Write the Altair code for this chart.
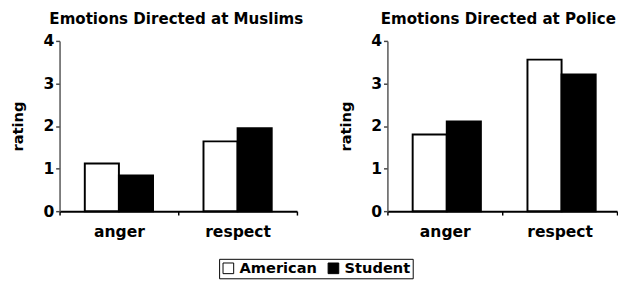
import altair as alt
import pandas as pd

categories = ["anger", "respect"]
groups = ["American", "Student"]
muslims_american = [1.12, 1.64]
muslims_student = [0.84, 1.95]
police_american = [1.80, 3.56]
police_student = [2.11, 3.21]
y_ticks = [0, 1, 2, 3, 4]

rows = []
for panel_name, am, st in [("Muslims", muslims_american, muslims_student),
                           ("Police", police_american, police_student)]:
    for c, a, s in zip(categories, am, st):
        rows.append({"panel": panel_name, "emotion": c, "group": groups[0], "rating": a})
        rows.append({"panel": panel_name, "emotion": c, "group": groups[1], "rating": s})
df = pd.DataFrame(rows)

FONT = "DejaVu Sans"


def panel(name, title, dx, width, pad_outer, align):
    return (
        alt.Chart(df)
        .transform_filter(alt.datum.panel == name)
        .mark_bar(stroke="black", strokeWidth=2)
        .encode(
            x=alt.X("emotion:N", sort=categories,
                    scale=alt.Scale(paddingInner=0, paddingOuter=0),
                    axis=alt.Axis(title=None, labelAngle=0, tickBand="extent",
                                  tickSize=4, tickColor="black", tickWidth=1.5,
                                  domainColor="black", domainWidth=2,
                                  labelFont=FONT, labelFontSize=16, labelFontWeight="bold",
                                  labelColor="black", labelPadding=9)),
            xOffset=alt.XOffset("group:N", sort=groups,
                                scale=alt.Scale(paddingInner=0, paddingOuter=pad_outer,
                                                align=align)),
            y=alt.Y("rating:Q", scale=alt.Scale(domain=[0, 4]),
                    axis=alt.Axis(values=y_ticks, title="rating", grid=False,
                                  tickSize=4, tickColor="#444", tickWidth=1.5,
                                  domainColor="#555", domainWidth=1.5,
                                  labelFont=FONT, labelFontSize=16, labelFontWeight="bold",
                                  labelColor="black", labelPadding=2,
                                  titleFont=FONT, titleFontSize=15, titleFontWeight="bold",
                                  titleColor="black", titlePadding=18)),
            fill=alt.Fill("group:N", sort=groups,
                          scale=alt.Scale(domain=groups, range=["white", "black"]),
                          legend=alt.Legend(title=None, orient="none", direction="horizontal",
                                            legendX=164, legendY=224,
                                            symbolType="square", symbolSize=120,
                                            symbolStrokeColor="black", symbolStrokeWidth=1,
                                            labelFont=FONT, labelFontSize=15,
                                            labelFontWeight="bold", labelColor="black",
                                            labelOffset=4, columnPadding=9,
                                            strokeColor="black", padding=2)),
        )
        .properties(width=width, height=175,
                    title=alt.TitleParams(title, dx=dx, frame="group", anchor="middle",
                                          font=FONT, fontSize=15.5, fontWeight="bold",
                                          color="black", offset=6))
    )


left = panel("Muslims", "Emotions Directed at Muslims", -2, 244, 0.74, 0.5)
right = panel("Police", "Emotions Directed at Police", -4, 236, 0.686, 0.6)

chart = (
    alt.hconcat(left, right, spacing=35)
    .resolve_scale(fill="shared")
    .properties(padding={"left": 2, "top": 0, "right": 0, "bottom": 0},
                background="white")
    .configure_view(strokeWidth=0, stroke="transparent")
)

chart.save("out.html", embed_options={"renderer": "svg", "actions": False})
